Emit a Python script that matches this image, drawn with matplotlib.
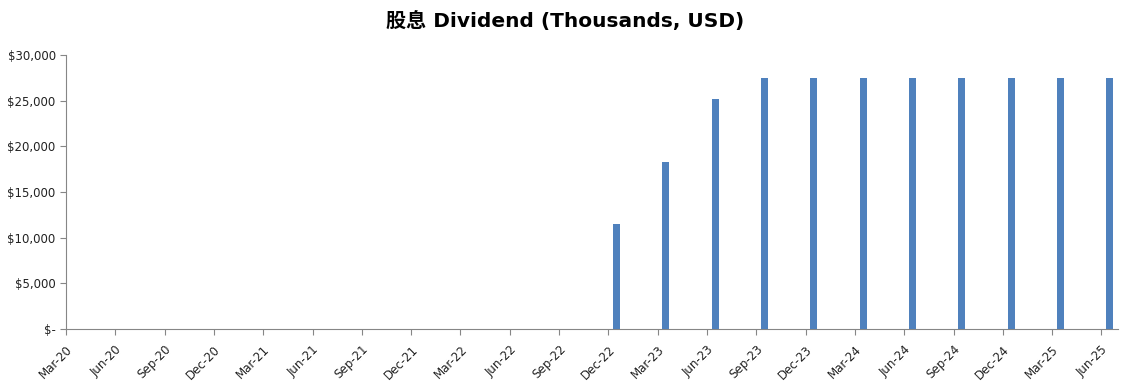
import matplotlib.pyplot as plt
import matplotlib.ticker as mticker

quarters = ['Mar-20', 'Jun-20', 'Sep-20', 'Dec-20', 'Mar-21', 'Jun-21', 'Sep-21', 'Dec-21',
            'Mar-22', 'Jun-22', 'Sep-22', 'Dec-22', 'Mar-23', 'Jun-23', 'Sep-23', 'Dec-23',
            'Mar-24', 'Jun-24', 'Sep-24', 'Dec-24', 'Mar-25', 'Jun-25']
dividend = [0, 0, 0, 0, 0, 0, 0, 0,
            0, 0, 0, 11500, 18300, 25200, 27450, 27450,
            27450, 27450, 27450, 27450, 27450, 27450]

# date axis in months since Mar-20, one tick every 3 months, bars mid-month
month_idx = [3 * i for i in range(len(quarters))]
bar_x = [m + 0.5 for m in month_idx]

fig = plt.figure(figsize=(11.31, 3.85), dpi=100)
ax = fig.add_axes([0.0584, 0.1455, 0.93, 0.7115])

ax.bar(bar_x, dividend, width=0.42, color='#4F81BD', zorder=3)

ax.set_xlim(0, 64)
ax.set_ylim(0, 30000)
ax.set_xticks(month_idx)
ax.set_xticklabels(quarters, rotation=45, ha='right', rotation_mode='anchor')
ax.set_yticks(range(0, 30001, 5000))
ax.yaxis.set_major_formatter(mticker.FuncFormatter(
    lambda v, p: '$-' if v == 0 else f'${v:,.0f}'))

for s in ['top', 'right']:
    ax.spines[s].set_visible(False)
for s in ['left', 'bottom']:
    ax.spines[s].set_color('#868686')
ax.tick_params(axis='both', colors='#868686', labelcolor='#222222', labelsize=8.5, length=4)
ax.tick_params(axis='x', pad=6)

fig.suptitle('股息 Dividend (Thousands, USD)', x=0.5, y=0.972, fontsize=14.5, fontweight='bold',
             family=['DejaVu Sans', 'Noto Sans CJK SC'])

fig.savefig('out.png', dpi=100)
